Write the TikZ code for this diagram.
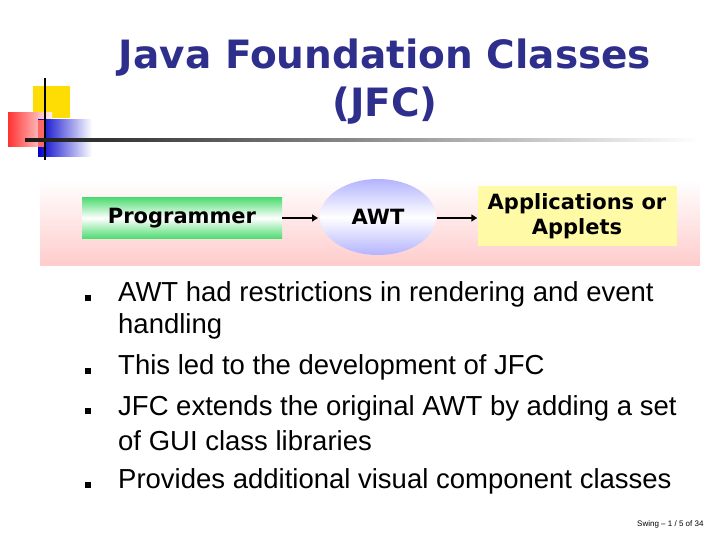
\documentclass[tikz,border=0pt]{standalone}
\usepackage{fontspec}
\usetikzlibrary{shapes.geometric,arrows.meta}
\setmainfont{Liberation Sans}
\newfontfamily\titlefont{DejaVu Sans}
\begin{document}
\begin{tikzpicture}[x=1pt,y=-1pt,
  bul/.style={fill=black,minimum size=6pt,inner sep=0pt},
  btext/.style={anchor=west,font=\fontsize{27.5}{30}\selectfont,inner sep=0pt},
  arr/.style={-{Triangle[length=6pt,width=7pt]},line width=2.5pt},
  dfont/.style={font=\titlefont\bfseries\fontsize{21}{25}\selectfont}]
\useasboundingbox (0,0) rectangle (720,540);
\definecolor{tblue}{RGB}{46,46,140}
% decoration
\fill[yellow!80!orange] (33,86) rectangle (70,118);
\shade[left color=red!80, right color=red!5] (8,113) rectangle (52,147);
\shade[left color=blue!80!black, right color=white] (38,120) rectangle (92,157);
\fill[red!60] (38,120) rectangle (46,147);
\draw[line width=1.5pt] (45,78) -- (45,160);
\shade[left color=black!90, right color=white] (25,139) rectangle (700,141.5);
% title
\node[font=\titlefont\bfseries\fontsize{39}{46}\selectfont,text=tblue] (t1) at (385,58) {Java Foundation Classes};
\node[font=\titlefont\bfseries\fontsize{39}{46}\selectfont,text=tblue] (t2) at (385,106) {(JFC)};
% band
\shade[top color=white, bottom color=red!20] (40,180) rectangle (700,265);
% diagram
\node[dfont,minimum width=200pt,minimum height=41pt,
  shading=axis,top color=green!60!teal!70,bottom color=green!60!teal!70,middle color=white,inner sep=0pt] (p) at (182,218) {Programmer};
\node[ellipse,dfont,minimum width=116pt,minimum height=76pt,
  top color=blue!30,bottom color=blue!30,middle color=white,inner sep=0pt] (a) at (378,217) {AWT};
\node[dfont,minimum width=199pt,minimum height=60pt,
  fill=yellow!35,align=center,inner sep=0pt] (ap) at (577,216) {Applications or\\Applets};
\draw[arr] (p.east) -- (318,218);
\draw[arr] (437,218) -- (ap.west |- 0,218);
% bullets
\foreach \y/\n in {298/b1,371/b2,411/b3,485/b4} \node[bul] (\n) at (88,\y) {};
\node[btext] (l1) at (118,294) {AWT had restrictions in rendering and event};
\node[btext] (l2) at (118,326) {handling};
\node[btext] (l3) at (118,367) {This led to the development of JFC};
\node[btext] (l4) at (118,408) {JFC extends the original AWT by adding a set};
\node[btext] (l5) at (118,441) {of GUI class libraries};
\node[btext] (l6) at (118,481) {Provides additional visual component classes};
\node[font=\fontsize{8}{9}\selectfont,anchor=east] (f) at (707,524) {Swing – 1 / 5 of 34};
\end{tikzpicture}
\end{document}
